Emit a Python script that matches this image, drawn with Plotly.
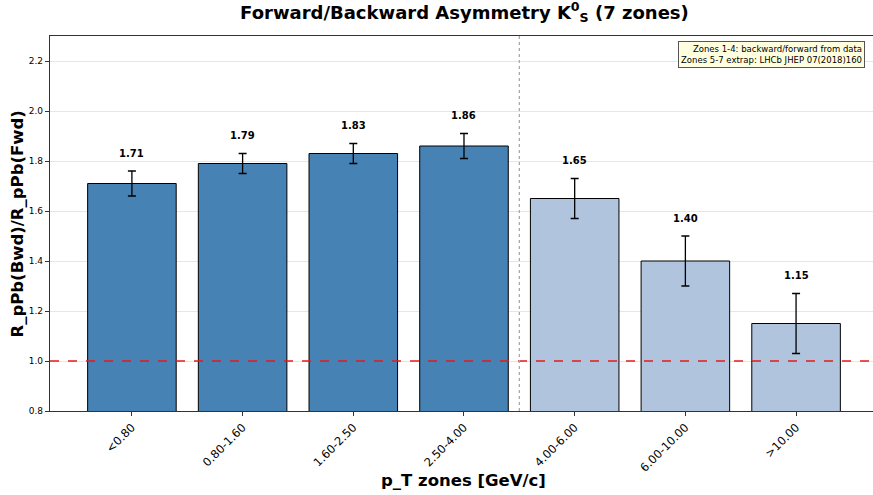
import plotly.graph_objects as go

# pT zones and the backward/forward ratio per zone
zones = ["<0.80", "0.80-1.60", "1.60-2.50", "2.50-4.00", "4.00-6.00", "6.00-10.00", ">10.00"]
ratio = [1.71, 1.79, 1.83, 1.86, 1.65, 1.40, 1.15]
ratio_err = [0.05, 0.04, 0.04, 0.05, 0.08, 0.10, 0.12]
n_data_zones = 4  # zones 1-4 measured, 5-7 extrapolated

data_color = "#4682B4"
extrap_color = "#B0C4DE"
colors = [data_color if i < n_data_zones else extrap_color for i in range(len(zones))]
xpos = list(range(len(zones)))

fig = go.Figure()
fig.add_trace(go.Bar(
    x=xpos, y=ratio, width=0.8,
    marker=dict(color=colors, line=dict(color="black", width=1)),
    error_y=dict(type="data", array=ratio_err, color="black", thickness=1.3, width=4),
    showlegend=False,
))

# value labels above the error bars
for x, v, e in zip(xpos, ratio, ratio_err):
    fig.add_annotation(x=x, y=v + e + 0.072, text=f"<b>{v:.2f}</b>", showarrow=False,
                       font=dict(family="DejaVu Sans", size=10, color="black"),
                       xanchor="center", yanchor="middle")

# reference line at unity and separator between measured / extrapolated zones
fig.add_shape(type="line", xref="paper", x0=0, x1=1, y0=1.0, y1=1.0,
              line=dict(color="#E41A1C", width=1.6, dash="dash"))
fig.add_shape(type="line", x0=n_data_zones - 0.5, x1=n_data_zones - 0.5, yref="paper", y0=0, y1=1,
              line=dict(color="#AAAAAA", width=1.3, dash="dot"))

fig.add_annotation(xref="paper", yref="paper", x=0.990, y=0.988, xanchor="right", yanchor="top",
                   text="Zones 1-4: backward/forward from data<br>Zones 5-7 extrap: LHCb JHEP 07(2018)160",
                   align="right", showarrow=False,
                   font=dict(family="DejaVu Sans", size=8.5, color="black"),
                   bgcolor="#FFFFE0", bordercolor="#555555", borderwidth=1, borderpad=2)

# axis titles
fig.add_annotation(xref="paper", yref="paper", x=-0.040, y=0.5, xanchor="center", yanchor="middle",
                   text="<b>R_pPb(Bwd)/R_pPb(Fwd)</b>", textangle=-90, showarrow=False,
                   font=dict(family="DejaVu Sans", size=16.5, color="black"))
fig.add_annotation(xref="paper", yref="paper", x=0.503, y=-0.184, xanchor="center", yanchor="middle",
                   text="<b>p_T zones [GeV/c]</b>", showarrow=False,
                   font=dict(family="DejaVu Sans", size=16.5, color="black"))

fig.update_layout(
    width=873, height=495,
    margin=dict(l=50, r=0, t=36, b=84),
    plot_bgcolor="white", paper_bgcolor="white",
    font=dict(family="DejaVu Sans", color="black"),
    title=dict(text="<b>Forward/Backward Asymmetry K<sup>0</sup><sub>S</sub> (7 zones)</b>",
               x=0.532, xanchor="center", y=0.975, yanchor="middle",
               font=dict(size=18, family="DejaVu Sans")),
    bargap=0.2,
)
fig.update_xaxes(
    range=[-0.74, 6.695], tickvals=xpos, ticktext=zones, tickangle=-45,
    showline=True, linecolor="#333333", linewidth=1.2, mirror=True,
    ticks="outside", ticklen=4, tickcolor="#333333",
    tickfont=dict(size=11.5),
    showgrid=False,
)
fig.update_yaxes(
    range=[0.8, 2.3], tickvals=[0.8, 1.0, 1.2, 1.4, 1.6, 1.8, 2.0, 2.2],
    ticktext=["0.8", "1.0", "1.2", "1.4", "1.6", "1.8", "2.0", "2.2"],
    showline=True, linecolor="#333333", linewidth=1.2,
    ticks="outside", ticklen=4, tickcolor="#333333",
    tickfont=dict(size=9),
    showgrid=True, gridcolor="#E6E6E6", gridwidth=1,
    zeroline=False,
)

fig.write_html("out.html")
